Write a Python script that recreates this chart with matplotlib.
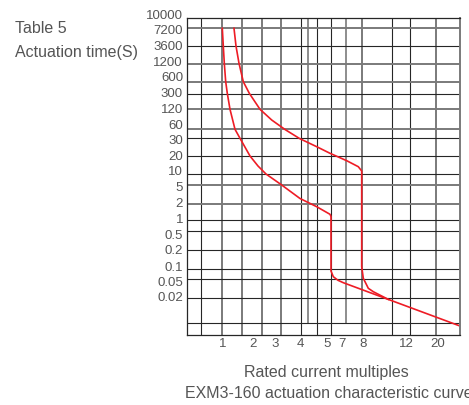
import matplotlib
matplotlib.use("Agg")
import matplotlib.pyplot as plt

# === Dados (escala do gráfico em pixels: x da esquerda, y de cima) ===
y_labels = ["10000", "7200", "3600", "1200", "600", "300", "120", "60", "30", "20",
            "10", "5", "2", "1", "0.5", "0.2", "0.1", "0.05", "0.02"]
y_label_pos = [16, 31, 46.5, 62.7, 78.3, 94.3, 110, 125.7, 141, 156.7,
               172.3, 188.3, 204.3, 220, 235.7, 251.3, 267.7, 282.7, 298.3]

x_labels = ["1", "2", "3", "4", "5", "7", "8", "12", "20"]
x_label_pos = [222.7, 252.7, 275, 300.7, 326.7, 341.7, 363.3, 406.7, 437.7]

# linhas da grade
v_dark = [201, 301, 317, 331, 392, 410]
v_gray = [222, 242, 262, 281, 362, 436]
v_short = [308, 346]          # terminam na linha inferior (323)
h_dark = [46, 94, 138, 156, 174, 220, 231, 250, 269, 279, 298, 323]
h_gray = [28, 64, 82, 109, 129, 185, 204]

# curvas de atuação
curva_a_x = [222.3, 223.3, 224.3, 225.7, 227.3, 230, 235, 240, 250, 258, 266, 281,
             300, 316.7, 330, 331, 331, 333.3, 338, 343.3, 460]
curva_a_y = [28.3, 46, 63.3, 81.7, 93.3, 109.3, 129.3, 138.3, 156, 166, 174, 184.5,
             198.5, 206.7, 214.3, 216.5, 271, 276.7, 280.3, 282.7, 326]
curva_b_x = [234, 236, 239, 243.3, 249.3, 260, 271.7, 285, 299.5, 316.7, 330, 346.7,
             358.3, 361.7, 361.7, 363.3, 368.3, 373.3, 388.3]
curva_b_y = [28.3, 46, 63.3, 81.7, 93.3, 109.3, 120, 129.5, 138.5, 146.7, 153.3, 160.7,
             166.7, 171, 266.7, 278.3, 288.3, 291.7, 299.4]

# === Figura ===
plt.rcParams["font.family"] = ["Liberation Sans", "DejaVu Sans"]
W, H = 469, 405
fig = plt.figure(figsize=(W / 100, H / 100), dpi=100)
x0, x1, y0, y1 = 187, 460, 18, 335
ax = fig.add_axes([x0 / W, 1 - y1 / H, (x1 - x0) / W, (y1 - y0) / H])
ax.set_xlim(x0, x1)
ax.set_ylim(y1, y0)
ax.set_xticks([])
ax.set_yticks([])

dark = "#262626"
gray = "#7a7a7a"
txt = "#555555"

for x in v_dark:
    ax.axvline(x, color=dark, lw=0.8)
for x in v_gray:
    ax.axvline(x, color=gray, lw=1.4)
for x in v_short:
    ax.plot([x, x], [y0, 323], color=gray, lw=1.2)
for y in h_dark:
    ax.axhline(y, color=dark, lw=0.8)
for y in h_gray:
    ax.axhline(y, color=gray, lw=1.4)

for side in ["left", "top", "bottom"]:
    ax.spines[side].set_color(dark)
    ax.spines[side].set_linewidth(0.9)
ax.spines["right"].set_color(gray)
ax.spines["right"].set_linewidth(1.4)

ax.plot(curva_a_x, curva_a_y, color="#ee1c25", lw=1.2, solid_joinstyle="round")
ax.plot(curva_b_x, curva_b_y, color="#ee1c25", lw=1.2, solid_joinstyle="round")

for lab, y in zip(y_labels, y_label_pos):
    ax.text(183, y, lab, ha="right", va="center", fontsize=9.5, color=txt, clip_on=False)
for lab, x in zip(x_labels, x_label_pos):
    ax.text(x, 344, lab, ha="center", va="center", fontsize=9.5, color=txt, clip_on=False)

fig.text(15 / W, 1 - 28.8 / H, "Table 5", ha="left", va="center", fontsize=11.5, color=txt)
fig.text(15 / W, 1 - 53 / H, "Actuation time(S)", ha="left", va="center", fontsize=11.5, color=txt)
fig.text(326.7 / W, 1 - 373 / H, "Rated current multiples", ha="center", va="center",
         fontsize=11.5, color=txt)
fig.text(185 / W, 1 - 394 / H, "EXM3-160 actuation characteristic curve", ha="left",
         va="center", fontsize=11.5, color=txt)

fig.savefig("out.png", dpi=100)
